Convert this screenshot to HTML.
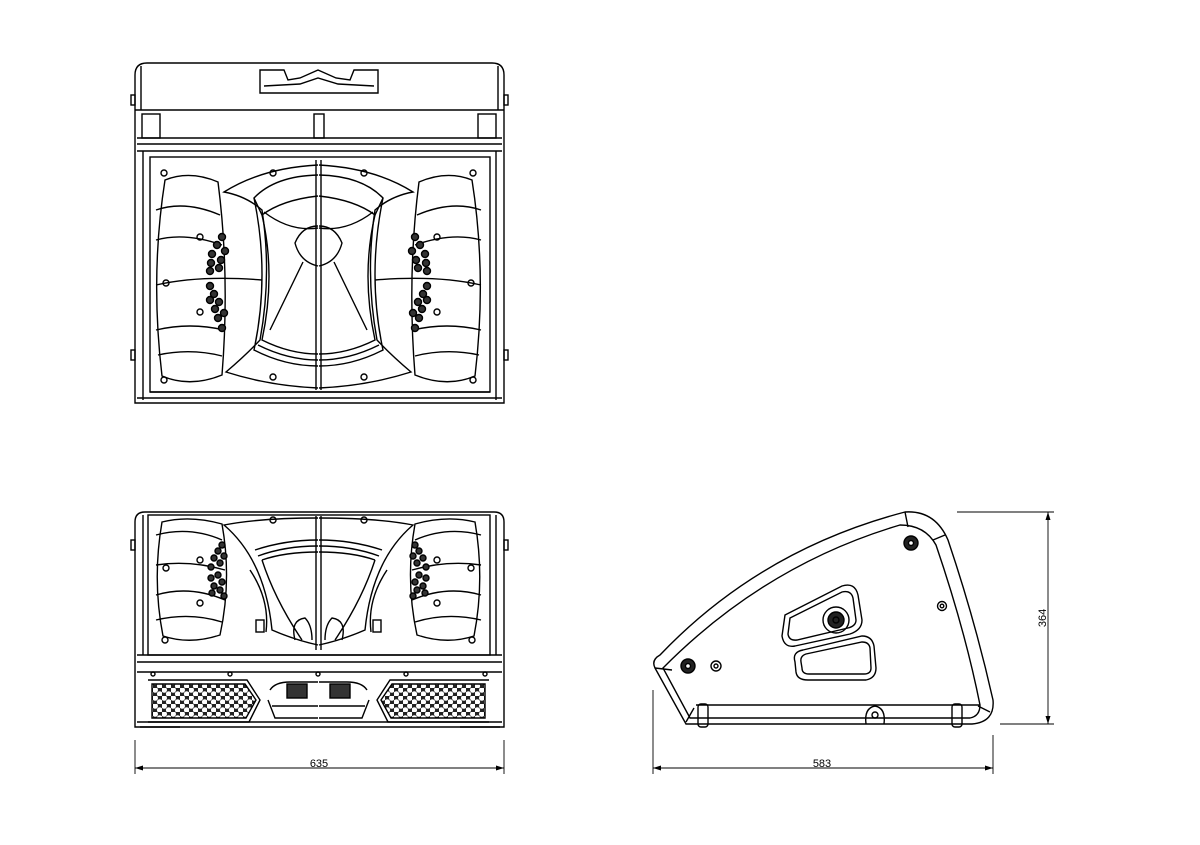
<!DOCTYPE html>
<html><head><meta charset="utf-8"><style>
html,body{margin:0;padding:0;background:#fff;}
svg{display:block}
text{font-family:"Liberation Sans",Arial,sans-serif;font-size:11px;fill:#000}
</style></head><body>
<svg width="1200" height="845" viewBox="0 0 1200 845" xmlns="http://www.w3.org/2000/svg">
<defs>
<pattern id="hex" x="0" y="0" width="9" height="8" patternUnits="userSpaceOnUse">
<rect width="9" height="8" fill="#222"/>
<circle cx="2.2" cy="2" r="2.8" fill="#fff"/>
<circle cx="6.7" cy="6" r="2.8" fill="#fff"/>
</pattern>
<g id="topHalf">
<path d="M165,180 Q190,170 218,182 Q230,275 222,375 Q190,388 162,376 Q150,275 165,180 Z"/>
<path d="M156,210 Q185,200 220,215 M156,240 Q185,232 222,245 M156,285 Q200,275 262,280 M156,330 Q190,322 224,330 M158,355 Q190,348 222,356"/>
<path d="M318,165 Q262,168 224,192 Q246,196 262,210 Q272,275 260,340 Q246,355 226,372 Q270,386 318,388"/>
<path d="M318,175 Q275,176 254,198 L262,215 Q282,200 318,196"/>
<path d="M254,198 Q270,275 254,350 Q285,366 318,366 M262,215 Q276,275 262,340 Q290,354 318,354 M258,345 Q288,360 318,360"/>
<path d="M264,212 Q290,232 318,228 M318,226 Q302,226 295,243 Q300,262 318,266 M303,262 L270,330"/>
<circle cx="164" cy="173" r="3"/><circle cx="273" cy="173" r="3"/><circle cx="200" cy="237" r="3"/>
<circle cx="166" cy="283" r="3"/><circle cx="200" cy="312" r="3"/><circle cx="164" cy="380" r="3"/><circle cx="273" cy="377" r="3"/>
<g fill="#333">
<circle cx="222" cy="237" r="3.5"/><circle cx="217" cy="245" r="3.5"/><circle cx="225" cy="251" r="3.5"/><circle cx="212" cy="254" r="3.5"/><circle cx="221" cy="260" r="3.5"/><circle cx="211" cy="263" r="3.5"/><circle cx="219" cy="268" r="3.5"/><circle cx="210" cy="271" r="3.5"/>
<circle cx="210" cy="286" r="3.5"/><circle cx="214" cy="294" r="3.5"/><circle cx="210" cy="300" r="3.5"/><circle cx="219" cy="302" r="3.5"/><circle cx="215" cy="309" r="3.5"/><circle cx="224" cy="313" r="3.5"/><circle cx="218" cy="318" r="3.5"/><circle cx="222" cy="328" r="3.5"/>
</g>
</g>
<g id="botHalf">
<path d="M162,522 Q190,515 222,524 Q232,580 220,635 Q190,645 163,636 Q152,580 162,522 Z"/>
<path d="M156,535 Q190,526 222,540 M156,565 Q190,560 225,570 M156,595 Q190,585 225,600 M156,620 Q190,612 222,622"/>
<path d="M318,518 Q260,518 224,525 Q265,560 272,630 Q295,640 318,645"/>
<path d="M318,540 Q285,540 255,550 M318,546 Q285,546 258,556 M318,552 Q285,552 262,560"/>
<path d="M262,560 Q275,600 302,640 M250,570 Q270,600 266,632 M295,640 Q290,620 305,618 Q312,625 312,640"/>
<rect x="256" y="620" width="8" height="12"/>
<circle cx="165" cy="640" r="3"/><circle cx="273" cy="520" r="3"/><circle cx="200" cy="560" r="3"/><circle cx="200" cy="603" r="3"/><circle cx="166" cy="568" r="3"/>
<g fill="#333">
<circle cx="222" cy="545" r="3"/><circle cx="218" cy="551" r="3"/><circle cx="224" cy="556" r="3"/><circle cx="214" cy="558" r="3"/><circle cx="220" cy="563" r="3"/><circle cx="211" cy="567" r="3"/>
<circle cx="218" cy="575" r="3"/><circle cx="211" cy="578" r="3"/><circle cx="222" cy="582" r="3"/><circle cx="214" cy="586" r="3"/><circle cx="220" cy="590" r="3"/><circle cx="212" cy="593" r="3"/><circle cx="224" cy="596" r="3"/>
</g>
<path d="M152,684 L245,684 L256,700 L246,718 L152,718 Z" fill="url(#hex)"/>
<path d="M148,680 L247,680 L260,700 L249,722 L148,722"/>
<path d="M270,690 Q275,682 290,682 L318,682 M268,700 L275,718 L318,718 M272,706 L318,706"/>
<rect x="287" y="684" width="20" height="14" fill="#333"/>
</g>
</defs>

<g fill="none" stroke="#000" stroke-width="1.4">
<path d="M135,403 L135,75 Q135,63 147,63 L492,63 Q504,63 504,75 L504,403 Z"/>
<path d="M141,66 L141,110 M498,66 L498,110"/>
<line x1="135" y1="110" x2="504" y2="110"/>
<line x1="137" y1="138" x2="502" y2="138"/><line x1="137" y1="144" x2="502" y2="144"/><line x1="137" y1="151" x2="502" y2="151"/>
<path d="M143,151 L143,400 M496,151 L496,400 M137,398 L502,398 M150,392 L490,392"/>
<rect x="150" y="157" width="340" height="235"/>
<rect x="142" y="114" width="18" height="24"/><rect x="478" y="114" width="18" height="24"/>
<rect x="314" y="114" width="10" height="24"/>
<path d="M260,93 L260,70 L284,70 L288,80 L300,78 L318,70 L336,78 L350,80 L354,70 L378,70 L378,93 Z"/>
<path d="M264,86 L300,84 L318,78 L338,84 L374,86"/>
<line x1="316" y1="160" x2="316" y2="390"/><line x1="321" y1="160" x2="321" y2="390"/>
<use href="#topHalf"/>
<use href="#topHalf" transform="translate(637,0) scale(-1,1)"/>
<rect x="131" y="95" width="4" height="10"/><rect x="504" y="95" width="4" height="10"/>
<rect x="131" y="350" width="4" height="10"/><rect x="504" y="350" width="4" height="10"/>

<path d="M135,727 L135,522 Q135,512 145,512 L494,512 Q504,512 504,522 L504,727 Z"/>
<rect x="148" y="515" width="342" height="140"/>
<path d="M143,515 L143,655 M496,515 L496,655"/>
<path d="M137,655 L502,655 M137,662 L502,662 M137,672 L502,672"/>
<line x1="316" y1="516" x2="316" y2="650"/><line x1="321" y1="516" x2="321" y2="650"/>
<use href="#botHalf"/>
<use href="#botHalf" transform="translate(637,0) scale(-1,1)"/>
<path d="M137,722 L502,722 M140,727 L180,727 M460,727 L500,727"/>
<circle cx="153" cy="674" r="2"/><circle cx="230" cy="674" r="2"/><circle cx="318" cy="674" r="2"/><circle cx="406" cy="674" r="2"/><circle cx="485" cy="674" r="2"/>
<rect x="131" y="540" width="4" height="10"/><rect x="504" y="540" width="4" height="10"/>

<path d="M686,724 L655,668 Q651,660 660,655 Q760,550 905,512 Q935,510 948,540 Q975,620 993,700 Q995,722 972,724 Z"/>
<path d="M690,718 L663,668 Q765,565 900,525 Q925,525 936,545 Q965,630 980,705 Q980,716 970,718 Z"/>
<path d="M905,512 L908,527 M945,535 L933,540 M655,668 L672,670 M686,722 L694,708 M990,712 L978,706"/>
<path d="M696,705 L980,705"/>
<rect x="698" y="704" width="10" height="23" rx="3"/><rect x="952" y="704" width="10" height="23" rx="3"/>
<path d="M866,724 Q864,708 875,706 Q886,708 884,724"/><circle cx="875" cy="715" r="3"/>
<path d="M785,615 L842,586 Q855,582 858,595 L862,620 Q862,630 850,634 L795,646 Q784,648 782,636 Z"/>
<path d="M790,618 L842,592 Q851,590 853,598 L856,620 Q856,626 848,628 L797,640 Q789,641 788,634 Z"/>
<circle cx="836" cy="620" r="13"/><circle cx="836" cy="620" r="8" fill="#222"/><circle cx="836" cy="620" r="3"/>
<path d="M795,662 Q792,652 803,650 L862,636 Q872,636 874,646 L876,668 Q876,678 866,680 L808,680 Q797,680 796,672 Z"/>
<path d="M801,662 Q800,656 806,654 L862,642 Q869,642 870,648 L871,668 Q871,674 864,674 L809,674 Q802,674 802,668 Z"/>
<circle cx="688" cy="666" r="7" fill="#222"/><circle cx="688" cy="666" r="2.5" fill="#fff"/>
<circle cx="716" cy="666" r="5"/><circle cx="716" cy="666" r="2"/>
<circle cx="911" cy="543" r="7" fill="#222"/><circle cx="911" cy="543" r="2.5" fill="#fff"/>
<circle cx="942" cy="606" r="4.5"/><circle cx="942" cy="606" r="1.8"/>

<g stroke-width="0.9">
<line x1="135" y1="740" x2="135" y2="774"/><line x1="504" y1="740" x2="504" y2="774"/>
<line x1="135" y1="768" x2="504" y2="768"/>
<line x1="653" y1="690" x2="653" y2="774"/><line x1="993" y1="735" x2="993" y2="774"/>
<line x1="653" y1="768" x2="993" y2="768"/>
<line x1="957" y1="512" x2="1054" y2="512"/><line x1="1000" y1="724" x2="1054" y2="724"/>
<line x1="1048" y1="512" x2="1048" y2="724"/>
</g>
</g>
<g fill="#000">
<path d="M135,768 l8,-2.5 v5 z"/><path d="M504,768 l-8,-2.5 v5 z"/>
<path d="M653,768 l8,-2.5 v5 z"/><path d="M993,768 l-8,-2.5 v5 z"/>
<path d="M1048,512 l-2.5,8 h5 z"/><path d="M1048,724 l-2.5,-8 h5 z"/>
</g>
<text x="319" y="767" text-anchor="middle">635</text>
<text x="822" y="767" text-anchor="middle">583</text>
<text x="0" y="0" text-anchor="middle" transform="translate(1046,618) rotate(-90)">364</text>
</svg>
</body></html>
